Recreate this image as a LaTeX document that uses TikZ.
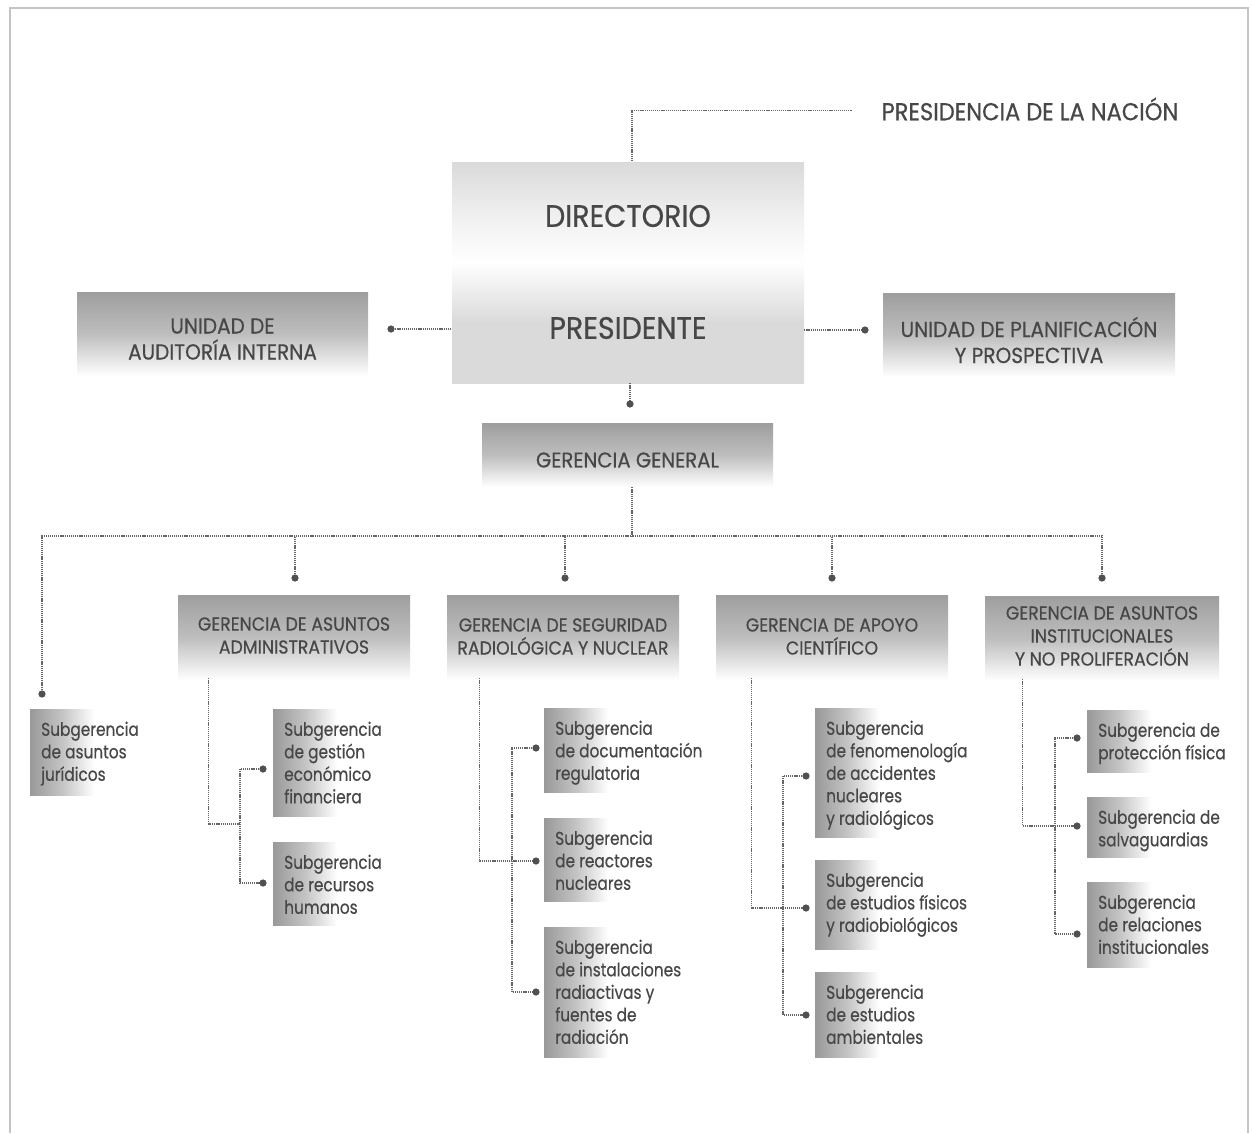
\documentclass[tikz,border=0pt]{standalone}
\usepackage{fontspec}
\setmainfont{Poppins}
\newfontfamily\capf{Poppins}[FakeStretch=0.92,FakeBold=0.5]
\newfontfamily\subf{Poppins}[FakeStretch=0.83,FakeBold=0.4]
\usetikzlibrary{calc}
\definecolor{txt}{HTML}{474747}
\definecolor{ln}{HTML}{666666}
\definecolor{dotc}{HTML}{505050}
\definecolor{gtop}{HTML}{9E9E9E}
\definecolor{gmid}{HTML}{BEBEBE}
\definecolor{ltop}{HTML}{DADADA}
\definecolor{sgl}{HTML}{999999}
\definecolor{sgm}{HTML}{C4C4C4}
\definecolor{framec}{HTML}{C4C4C4}
\begin{document}
\begin{tikzpicture}[x=1pt,y=-1pt,
  conn/.style={draw=ln, line width=1.1pt, dash pattern=on 1.2pt off 0.9pt},
  gbox/.style={rectangle, inner sep=0pt, top color=gtop, bottom color=white, middle color=gmid},
  sbox/.style={rectangle, inner sep=0pt, anchor=north west, minimum width=64pt,
               left color=sgl, right color=white, middle color=sgm},
  ctext/.style={align=center, inner sep=0pt, text=txt},
  gtext/.style={ctext, font=\capf\fontsize{18.8}{23}\selectfont},
  stext/.style={anchor=north west, align=left, inner sep=0pt, text=txt,
                font=\subf\fontsize{18.5}{22.5}\selectfont}
]
\useasboundingbox (0,0) rectangle (1252,1133);
\fill[white] (0,0) rectangle (1252,1133);
\draw[framec, line width=1.5pt] (10,1133) -- (10,8) -- (1248,8) -- (1248,1133);

% ---------- top ----------
\node[ctext, font=\capf\fontsize{24.5}{28}\selectfont] (pn) at (1030,109) {PRESIDENCIA DE LA NACIÓN};

\node[rectangle, inner sep=0pt, minimum width=352pt, minimum height=100pt,
      top color=ltop, bottom color=white, middle color=ltop!45!white] (dir) at (628,212) {};
\node[rectangle, inner sep=0pt, minimum width=352pt, minimum height=121pt,
      top color=white, bottom color=ltop, middle color=ltop] (pres) at (628,322.5) {};
\node[ctext, font=\capf\fontsize{31}{34}\selectfont] (dirt) at (628,216) {DIRECTORIO};
\node[ctext, font=\capf\fontsize{31}{34}\selectfont] (prest) at (628,328) {PRESIDENTE};

\node[gbox, minimum width=291pt, minimum height=84pt] (uai) at (222.5,334) {};
\node[ctext, font=\capf\fontsize{21.8}{26}\selectfont] (uait) at (222.5,339) {UNIDAD DE\\AUDITORÍA INTERNA};
\node[gbox, minimum width=292pt, minimum height=84pt] (upp) at (1029,335) {};
\node[ctext, font=\capf\fontsize{21.8}{26}\selectfont] (uppt) at (1029,340) {UNIDAD DE PLANIFICACIÓN\\Y PROSPECTIVA};

\node[gbox, minimum width=291pt, minimum height=64pt] (gg) at (627.5,455) {};
\node[ctext, font=\capf\fontsize{21.4}{26}\selectfont] (ggt) at (627.5,460) {GERENCIA GENERAL};

% ---------- gerencias ----------
\node[gbox, minimum width=232pt, minimum height=85pt] (gaa) at (294,637.5) {};
\node[gtext] (gaat) at (294,635.5) {GERENCIA DE ASUNTOS\\ADMINISTRATIVOS};
\node[gbox, minimum width=232pt, minimum height=85pt] (gsr) at (563,637.5) {};
\node[gtext] (gsrt) at (563,636.5) {GERENCIA DE SEGURIDAD\\RADIOLÓGICA Y NUCLEAR};
\node[gbox, minimum width=232pt, minimum height=85pt] (gac) at (832,637.5) {};
\node[gtext] (gact) at (832,636.5) {GERENCIA DE APOYO\\CIENTÍFICO};
\node[gbox, minimum width=234pt, minimum height=85pt] (gai) at (1102,638.5) {};
\node[gtext] (gait) at (1102,636) {GERENCIA DE ASUNTOS\\INSTITUCIONALES\\Y NO PROLIFERACIÓN};

% ---------- subgerencias ----------
\node[sbox, minimum height=86pt] (sJu) at (30,709) {};
\node[stext] (sJut) at ([shift={(11,12.5)}]sJu.north west) {Subgerencia\\de asuntos\\jurídicos};
\node[sbox, minimum height=107pt] (sGe) at (273,709) {};
\node[stext] (sGet) at ([shift={(11,12.5)}]sGe.north west) {Subgerencia\\de gestión\\económico\\financiera};
\node[sbox, minimum height=83pt] (sRe) at (273,842) {};
\node[stext] (sRet) at ([shift={(11,12.5)}]sRe.north west) {Subgerencia\\de recursos\\humanos};

\node[sbox, minimum height=84pt] (sDo) at (544,708) {};
\node[stext] (sDot) at ([shift={(11,12.5)}]sDo.north west) {Subgerencia\\de documentación\\regulatoria};
\node[sbox, minimum height=83pt] (sRx) at (544,818) {};
\node[stext] (sRxt) at ([shift={(11,12.5)}]sRx.north west) {Subgerencia\\de reactores\\nucleares};
\node[sbox, minimum height=130pt] (sIn) at (544,927) {};
\node[stext] (sInt) at ([shift={(11,12.5)}]sIn.north west) {Subgerencia\\de instalaciones\\radiactivas y\\fuentes de\\radiación};

\node[sbox, minimum height=129pt] (sFe) at (815,708) {};
\node[stext] (sFet) at ([shift={(11,12.5)}]sFe.north west) {Subgerencia\\de fenomenología\\de accidentes\\nucleares\\y radiológicos};
\node[sbox, minimum height=89pt] (sFi) at (815,860) {};
\node[stext] (sFit) at ([shift={(11,12.5)}]sFi.north west) {Subgerencia\\de estudios físicos\\y radiobiológicos};
\node[sbox, minimum height=85pt] (sAm) at (815,972) {};
\node[stext] (sAmt) at ([shift={(11,12.5)}]sAm.north west) {Subgerencia\\de estudios\\ambientales};

\node[sbox, minimum height=62pt] (sPr) at (1087,710) {};
\node[stext] (sPrt) at ([shift={(11,12.5)}]sPr.north west) {Subgerencia de\\protección física};
\node[sbox, minimum height=60pt] (sSa) at (1087,797) {};
\node[stext] (sSat) at ([shift={(11,12.5)}]sSa.north west) {Subgerencia de\\salvaguardias};
\node[sbox, minimum height=85pt] (sRl) at (1087,882) {};
\node[stext] (sRlt) at ([shift={(11,12.5)}]sRl.north west) {Subgerencia\\de relaciones\\institucionales};

% ---------- dot coordinates ----------
\coordinate (dPG) at (630,404);
\coordinate (dUAI) at (391,329);
\coordinate (dUPP) at (865,330);
\coordinate (bus) at (632,536);
\coordinate (dJu) at (42,694);
\coordinate (dGAA) at (295,578);
\coordinate (dGSR) at (565,578);
\coordinate (dGAC) at (832,578);
\coordinate (dGAI) at (1102,578);
\coordinate (dGe) at (263,769);
\coordinate (dRe) at (263,883);
\coordinate (gaaJ) at (240,824);
\coordinate (dDo) at (536,748);
\coordinate (dRx) at (536,861);
\coordinate (dIn) at (536,992);
\coordinate (dFe) at (806,776);
\coordinate (dFi) at (806,908);
\coordinate (dAm) at (806,1015);
\coordinate (dPr) at (1077,738);
\coordinate (dSa) at (1077,826);
\coordinate (dRl) at (1077,934);

% ---------- connectors ----------
\draw[conn] ([shift={(-30pt,-1.5pt)}]pn.west) -| ([xshift=4pt]dir.north);
\draw[conn] (dUAI) -- (dUAI -| pres.west);
\draw[conn] (dUPP -| pres.east) -- (dUPP);
\draw[conn] (pres.south -| dPG) -- (dPG);
\draw[conn] (gg.south -| bus) -- (bus);
\draw[conn] (dJu) |- (bus);
\draw[conn] (dGAI) |- (bus);
\draw[conn] (dGAA) -- (dGAA |- bus);
\draw[conn] (dGSR) -- (dGSR |- bus);
\draw[conn] (dGAC) -- (dGAC |- bus);

\draw[conn] ([shift={(31pt,2pt)}]gaa.south west) |- (gaaJ);
\draw[conn] (dGe) -- ++(-23,0) |- (dRe);
\draw[conn] ([shift={(33pt,2pt)}]gsr.south west) |- (dRx);
\draw[conn] (dDo) -- ++(-24,0) |- (dIn);
\draw[conn] ([shift={(36pt,2pt)}]gac.south west) |- (dFi);
\draw[conn] (dFe) -- ++(-23,0) |- (dAm);
\draw[conn] ([shift={(38pt,2pt)}]gai.south west) |- (dSa);
\draw[conn] (dPr) -- ++(-22,0) |- (dRl);

\foreach \d in {dPG,dUAI,dUPP,dJu,dGAA,dGSR,dGAC,dGAI,dGe,dRe,dDo,dRx,dIn,dFe,dFi,dAm,dPr,dSa,dRl}
  \fill[dotc] (\d) circle (3.6pt);
\end{tikzpicture}
\end{document}
